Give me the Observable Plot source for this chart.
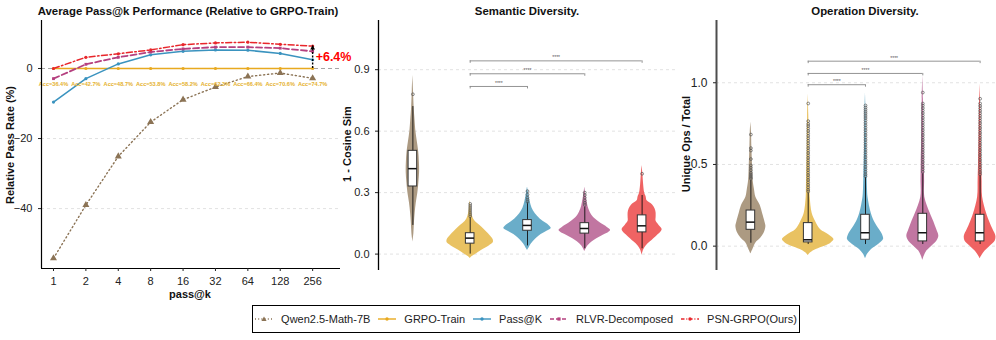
<!DOCTYPE html>
<html><head><meta charset="utf-8">
<script src="https://cdn.jsdelivr.net/npm/d3@7"></script>
<script src="https://cdn.jsdelivr.net/npm/@observablehq/plot@0.6"></script>
<style>
body{margin:0;background:#fff;font-family:"Liberation Sans",Arial,Helvetica,sans-serif;}
#root{position:relative;width:996px;height:340px;overflow:hidden;background:#fff;}
.panel{position:absolute;top:0;width:345px;height:300px;}
.panel svg{max-width:none !important;}
.title{position:absolute;font-weight:bold;font-size:11.4px;color:#111;white-space:nowrap;transform:translate(-50%,-50%);}
.ylab{position:absolute;font-weight:bold;font-size:11px;color:#111;white-space:nowrap;transform:translate(-50%,-50%) rotate(-90deg);}
.xlab{position:absolute;font-weight:bold;font-size:11px;color:#111;white-space:nowrap;transform:translate(-50%,-50%);}
#legend{position:absolute;left:252px;top:305px;width:548px;height:28px;border:1px solid #000;box-sizing:border-box;display:flex;align-items:center;justify-content:center;font-size:11px;color:#222;white-space:nowrap;}
.item{display:flex;align-items:center;margin:0 4px;flex-shrink:0;white-space:nowrap;}
.item svg{margin-right:8px;}
</style>
</head><body>
<div id="root">
  <div id="p1" class="panel" style="left:0"></div>
  <div id="p2" class="panel" style="left:340px"></div>
  <div id="p3" class="panel" style="left:680px"></div>
  <div class="title" style="left:188px;top:11px">Average Pass@k Performance (Relative to GRPO-Train)</div>
  <div class="title" style="left:527px;top:11px">Semantic Diversity.</div>
  <div class="title" style="left:865px;top:11px">Operation Diversity.</div>
  <div class="ylab" style="left:10px;top:145px">Relative Pass Rate (%)</div>
  <div class="ylab" style="left:347px;top:144px">1 - Cosine Sim</div>
  <div class="ylab" style="left:686px;top:144px">Unique Ops / Total</div>
  <div class="xlab" style="left:190px;top:294px">pass@k</div>
  <div id="legend"></div>
</div>
<script>
// ---------------- data ----------------
const kValues = [1, 2, 4, 8, 16, 32, 64, 128, 256];
const methodNames = ["Qwen2.5-Math-7B", "GRPO-Train", "Pass@K", "RLVR-Decomposed", "PSN-GRPO(Ours)"];
const qwenRel = [-54.2, -39.0, -25.1, -15.3, -8.9, -5.3, -2.3, -1.3, -2.8];
const grpoRel = [0, 0, 0, 0, 0, 0, 0, 0, 0];
const passKRel = [-9.6, -2.9, 1.3, 3.9, 4.9, 5.3, 5.2, 4.3, 2.5];
const rlvrRel = [-2.9, 1.2, 3.2, 4.7, 5.6, 6.1, 6.1, 5.8, 4.9];
const psnRel = [0, 3.2, 4.2, 5.3, 6.8, 7.3, 7.5, 6.9, 6.4];
const accLabels = ["Acc=36.4%", "Acc=42.7%", "Acc=48.7%", "Acc=53.8%", "Acc=58.2%", "Acc=62.3%", "Acc=66.4%", "Acc=70.6%", "Acc=74.7%"];
const gainLabel = "+6.4%";

// Semantic diversity: violin outlines [value, half-width density] per method
const semViolins = [
  [[0.872,0],[0.80,0.6],[0.72,1.2],[0.65,2.2],[0.60,3.0],[0.55,4.4],[0.50,5.8],[0.45,6.5],[0.40,6.7],[0.35,6.0],[0.30,5.0],[0.25,3.4],[0.20,2.3],[0.15,1.5],[0.10,1.0],[0.059,0]],
  [[0.262,0],[0.23,0.8],[0.20,1.5],[0.17,3.5],[0.15,7],[0.13,12],[0.11,16],[0.09,20],[0.07,23],[0.055,23],[0.04,19],[0.02,12],[0.0,6],[-0.012,2],[-0.022,0]],
  [[0.327,0],[0.30,1],[0.27,2],[0.24,3.5],[0.21,6],[0.185,10],[0.16,15.5],[0.14,21.5],[0.125,23.7],[0.11,19],[0.09,12],[0.07,7.5],[0.05,4],[0.03,1.5],[0.018,0]],
  [[0.327,0],[0.29,1],[0.25,2.5],[0.22,4],[0.19,7],[0.17,10.8],[0.15,16],[0.13,22.5],[0.115,25.8],[0.10,22],[0.09,17.5],[0.075,12],[0.06,7.5],[0.04,3],[0.013,0]],
  [[0.433,0],[0.39,0.8],[0.34,1.5],[0.30,2.5],[0.28,4],[0.26,5],[0.24,10.5],[0.22,13],[0.20,14],[0.18,14],[0.16,14],[0.14,17],[0.12,20],[0.105,18.5],[0.09,15],[0.06,8.3],[0.04,4],[0.02,1.5],[-0.006,0]]
];
const semLow = [0.14, 0.0, 0.04, 0.026, 0.026];
const semQ1 = [0.330, 0.051, 0.114, 0.100, 0.106];
const semMedian = [0.417, 0.078, 0.140, 0.125, 0.138];
const semQ3 = [0.504, 0.102, 0.166, 0.151, 0.189];
const semHigh = [0.72, 0.18, 0.25, 0.23, 0.286];
const semOutliers = [
  [0.78],
  [0.185, 0.195, 0.205, 0.215, 0.225, 0.235, 0.245],
  [0.255, 0.265, 0.275, 0.29, 0.307],
  [0.24, 0.25, 0.262, 0.275, 0.288, 0.30],
  [0.392]
];
const semBrackets = [{a: 1, b: 4, y: 0.943}, {a: 1, b: 3, y: 0.88}, {a: 1, b: 2, y: 0.818}];

// Operation diversity
const opViolins = [
  [[0.759,0],[0.70,0.6],[0.60,1],[0.50,1.6],[0.40,2.3],[0.35,3.5],[0.30,5],[0.25,9.3],[0.20,11.7],[0.15,14],[0.12,15],[0.08,13.3],[0.05,10],[0.02,5],[-0.02,2],[-0.047,0]],
  [[0.93,0],[0.80,0.6],[0.60,1],[0.45,1.5],[0.35,1.8],[0.30,2],[0.20,4],[0.15,7.5],[0.10,12.5],[0.07,20.5],[0.04,25.8],[0.02,23],[0.0,16.7],[-0.02,8],[-0.04,2.5],[-0.057,0]],
  [[0.94,0],[0.80,0.6],[0.60,1],[0.45,1.6],[0.35,2],[0.30,2.5],[0.20,5.8],[0.15,9],[0.10,14],[0.07,17],[0.04,18],[0.01,13],[-0.02,6],[-0.05,2],[-0.077,0]],
  [[1.045,0],[0.90,0.6],[0.70,1],[0.50,1.6],[0.40,1.8],[0.30,2],[0.20,7.5],[0.15,11],[0.10,14],[0.06,16],[0.03,14],[0.0,9],[-0.03,4],[-0.06,1.5],[-0.087,0]],
  [[0.994,0],[0.85,0.6],[0.70,1],[0.50,1.6],[0.40,2],[0.30,2.5],[0.20,6.5],[0.15,9.5],[0.10,13],[0.06,15.8],[0.03,15],[0.0,10],[-0.03,5],[-0.06,1.5],[-0.077,0]]
];
const opLow = [0.018, 0.01, 0.01, 0.01, 0.01];
const opQ1 = [0.100, 0.023, 0.039, 0.029, 0.029];
const opMedian = [0.147, 0.039, 0.082, 0.082, 0.082];
const opQ3 = [0.218, 0.141, 0.192, 0.198, 0.192];
const opHigh = [0.402, 0.325, 0.42, 0.443, 0.433];
const opOutliers = [
  [0.683, 0.60, 0.585, 0.533, 0.494, 0.48, 0.465, 0.45, 0.44, 0.43, 0.42, 0.413],
  [0.873, 0.765, 0.748, 0.735, 0.72, 0.705, 0.69, 0.675, 0.66, 0.645, 0.63, 0.615, 0.60, 0.585, 0.57, 0.555, 0.54, 0.525, 0.51, 0.495, 0.48, 0.465, 0.45, 0.435, 0.42, 0.405, 0.39, 0.375, 0.36, 0.345, 0.335],
  [0.861, 0.848, 0.835, 0.822, 0.81, 0.797, 0.784, 0.77, 0.755, 0.74, 0.725, 0.71, 0.695, 0.68, 0.665, 0.65, 0.635, 0.62, 0.605, 0.59, 0.575, 0.56, 0.545, 0.53, 0.515, 0.50, 0.485, 0.47, 0.455, 0.44, 0.428],
  [0.94, 0.873, 0.86, 0.845, 0.83, 0.815, 0.80, 0.785, 0.77, 0.755, 0.74, 0.725, 0.71, 0.695, 0.68, 0.665, 0.65, 0.635, 0.62, 0.605, 0.59, 0.575, 0.56, 0.545, 0.53, 0.515, 0.50, 0.485, 0.47, 0.455],
  [0.902, 0.873, 0.858, 0.843, 0.828, 0.813, 0.798, 0.783, 0.768, 0.753, 0.738, 0.723, 0.708, 0.693, 0.678, 0.663, 0.648, 0.633, 0.618, 0.603, 0.588, 0.573, 0.558, 0.543, 0.528, 0.513, 0.498, 0.483, 0.468, 0.453, 0.44]
];
const opBrackets = [{a: 1, b: 4, y: 1.132}, {a: 1, b: 3, y: 1.057}, {a: 1, b: 2, y: 0.988}];

// ---------------- styles ----------------
const lineColors = ["#8B7355", "#E8A91F", "#3A93BF", "#B5407F", "#E8262B"];
const lineDashes = ["1.2,2.8", null, null, "6,3", "6,2.5,1.5,2.5"];
const lineWidths = [1.4, 1.5, 1.5, 1.8, 1.5];
const violinColors = ["#A8957B", "#E8BF5A", "#62A9C6", "#BE6F9C", "#EE5B5B"];
const pxPerStep = 57.3;
const boxHalf = 0.075;
const baseStyle = {fontFamily: "'Liberation Sans', Arial, sans-serif", fontSize: "11px", color: "#222", background: "transparent", overflow: "visible", maxWidth: "none"};

// ---------------- left panel ----------------
const seriesValues = [qwenRel, grpoRel, passKRel, rlvrRel, psnRel];
const toRows = vals => kValues.map((k, i) => ({lk: Math.log2(k), v: vals[i]}));
const lineMarks = [];
seriesValues.forEach((vals, s) => {
  lineMarks.push(Plot.line(toRows(vals), {x: "lk", y: "v", stroke: lineColors[s], strokeWidth: lineWidths[s], strokeDasharray: lineDashes[s] || undefined}));
});
const markMarks = seriesValues.map((vals, s) =>
  s === 0
    ? Plot.dot(toRows(vals), {x: "lk", y: "v", symbol: "triangle", r: 2.6, fill: lineColors[s], stroke: "none"})
    : Plot.dot(toRows(vals), {x: "lk", y: "v", symbol: s === 3 ? "square" : "circle", r: 1.6, fill: lineColors[s], stroke: "none"})
);
const xMin = -0.37, yMin = -57.1;
const left = Plot.plot({
  width: 345, height: 300, marginLeft: 41, marginRight: 5, marginTop: 20, marginBottom: 32,
  style: baseStyle,
  x: {domain: [xMin, 8.86]},
  y: {domain: [yMin, 13.7]},
  marks: [
    Plot.ruleY([-20, -40], {stroke: "#e2e2e2", strokeDasharray: "3,3"}),
    Plot.ruleY([0], {stroke: "#9a9a9a", strokeDasharray: "4,3", strokeWidth: 0.9}),
    ...lineMarks,
    ...markMarks,
    Plot.text(accLabels, {x: (d, i) => Math.log2(kValues[i]), y: -4.6, text: d => d, fontSize: 5.6, fontWeight: "bold", fill: "#E5B12E"}),
    Plot.ruleX([Math.log2(kValues[8])], {y1: 0, y2: psnRel[8], stroke: "#000", strokeDasharray: "2,1.5", strokeWidth: 1.4}),
    Plot.dot([Math.log2(kValues[8])], {x: d => d, y: psnRel[8] - 0.6, symbol: "triangle", r: 1.8, fill: "#000"}),
    Plot.text([gainLabel], {x: Math.log2(kValues[8]), y: 3.2, dx: 3, textAnchor: "start", text: d => d, fill: "#FF0000", fontWeight: "bold", fontSize: 12.5}),
    Plot.ruleX([xMin], {stroke: "#000", strokeWidth: 1.2}),
    Plot.ruleY([yMin], {stroke: "#000", strokeWidth: 1.2}),
    Plot.axisX({ticks: d3.range(kValues.length), tickFormat: i => kValues[i], tickSize: 3, label: null}),
    Plot.axisY({ticks: [0, -20, -40], tickSize: 3, label: null})
  ]
});
document.getElementById("p1").appendChild(left);

// ---------------- violin panels ----------------
function violinPanel(cfg) {
  const marks = [Plot.ruleY(cfg.ticks, {stroke: "#e2e2e2", strokeDasharray: "3,3"})];
  cfg.violins.forEach((shape, i) => {
    marks.push(Plot.areaX(shape, {
      y: d => d[0], x1: d => i - d[1] / pxPerStep, x2: d => i + d[1] / pxPerStep,
      fill: violinColors[i], fillOpacity: 0.95, curve: "catmull-rom"
    }));
  });
  const stats = methodNames.map((n, i) => ({g: i, lo: cfg.low[i], q1: cfg.q1[i], med: cfg.med[i], q3: cfg.q3[i], hi: cfg.high[i]}));
  const outs = [];
  cfg.outliers.forEach((arr, i) => arr.forEach(v => outs.push({g: i, v})));
  marks.push(
    Plot.ruleX(stats, {x: "g", y1: "lo", y2: "hi", stroke: "#111", strokeWidth: 0.9}),
    Plot.rect(stats, {x1: d => d.g - boxHalf, x2: d => d.g + boxHalf, y1: "q1", y2: "q3", fill: "#fff", stroke: "#333", strokeWidth: 1}),
    Plot.ruleY(stats, {y: "med", x1: d => d.g - boxHalf, x2: d => d.g + boxHalf, stroke: "#111", strokeWidth: 1.5}),
    Plot.dot(outs, {x: "g", y: "v", r: 1.4, stroke: "#555", strokeWidth: 0.7, fill: "none"}),
    Plot.ruleY(cfg.brackets, {y: "y", x1: "a", x2: "b", stroke: "#888", strokeWidth: 0.9}),
    Plot.ruleX(cfg.brackets, {x: "a", y1: "y", y2: d => d.y - cfg.tick, stroke: "#888", strokeWidth: 0.9}),
    Plot.ruleX(cfg.brackets, {x: "b", y1: "y", y2: d => d.y - cfg.tick, stroke: "#888", strokeWidth: 0.9}),
    Plot.text(cfg.brackets, {x: d => (d.a + d.b) / 2, y: "y", text: () => "****", dy: -3, fontSize: 5, fill: "#555"}),
    Plot.ruleX([-0.6], {stroke: cfg.axisColor, strokeWidth: cfg.axisWidth}),
    Plot.axisY({ticks: cfg.ticks, tickFormat: d3.format(".1f"), tickSize: 3, label: null, fontSize: cfg.tickFont})
  );
  return Plot.plot({
    width: cfg.width, height: 300, marginLeft: cfg.marginLeft, marginRight: 0, marginTop: 20, marginBottom: 30,
    style: baseStyle,
    x: {domain: [-0.6, 4.6], axis: null},
    y: {domain: cfg.yDomain},
    marks
  });
}

document.getElementById("p2").appendChild(violinPanel({
  width: 336, marginLeft: 38, yDomain: [-0.08, 1.14], ticks: [0, 0.3, 0.6, 0.9],
  violins: semViolins, low: semLow, q1: semQ1, med: semMedian, q3: semQ3, high: semHigh,
  outliers: semOutliers, brackets: semBrackets, tick: 0.012, axisColor: "#000", axisWidth: 1.3, tickFont: 11
}));
document.getElementById("p3").appendChild(violinPanel({
  width: 334, marginLeft: 36, yDomain: [-0.149, 1.381], ticks: [0, 0.5, 1.0],
  violins: opViolins, low: opLow, q1: opQ1, med: opMedian, q3: opQ3, high: opHigh,
  outliers: opOutliers, brackets: opBrackets, tick: 0.015, axisColor: "#4d4d4d", axisWidth: 2, tickFont: 12
}));

// ---------------- legend ----------------
const legend = document.getElementById("legend");
methodNames.forEach((name, s) => {
  const item = document.createElement("div");
  item.className = "item";
  const dash = lineDashes[s] ? `stroke-dasharray="${s === 0 ? '1,2.2' : s === 3 ? '4,2' : '3.5,1.8,1,1.8'}"` : "";
  const marker = s === 0
    ? `<path d="M9,2.6 L11.6,7 L6.4,7 Z" fill="${lineColors[s]}"/>`
    : s === 3 ? `<rect x="7.4" y="3.4" width="3.2" height="3.2" fill="${lineColors[s]}"/>`
    : `<circle cx="9" cy="5" r="1.7" fill="${lineColors[s]}"/>`;
  item.innerHTML = `<svg width="18" height="10"><line x1="0" y1="5" x2="18" y2="5" stroke="${lineColors[s]}" stroke-width="1.4" ${dash}/>${marker}</svg><span>${name}</span>`;
  legend.appendChild(item);
});
</script>
</body></html>
